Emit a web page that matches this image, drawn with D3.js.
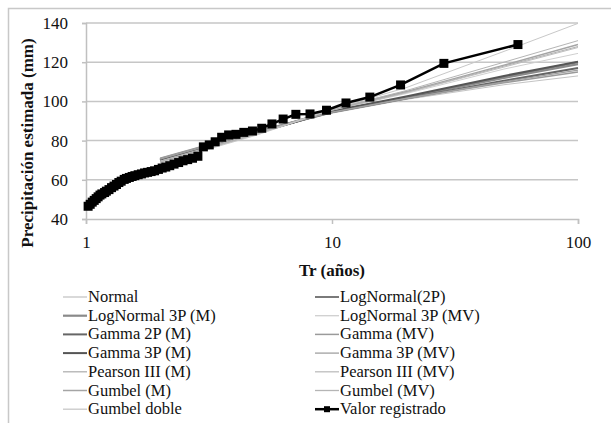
<!DOCTYPE html>
<html><head><meta charset="utf-8">
<script src="https://cdn.jsdelivr.net/npm/d3@7"></script>
<style>body{margin:0;background:#fff}svg{display:block}text{font-family:"Liberation Serif","Times New Roman",serif}</style>
</head><body><svg id="c" width="611" height="423" font-family="Liberation Serif"></svg>
<script>
// Observed data (Weibull plotting positions)
const obsTr = [57,28.5,19,14.25,11.4,9.5,8.14,7.13,6.33,5.7,5.18,4.75,4.38,4.07,3.8,3.56,3.35,3.17,3.0,2.85,2.71,2.59,2.48,2.38,2.28,2.19,2.11,2.04,1.97,1.9,1.84,1.78,1.73,1.68,1.63,1.58,1.54,1.5,1.46,1.43,1.39,1.36,1.33,1.30,1.27,1.24,1.21,1.19,1.16,1.14,1.12,1.10,1.08,1.06,1.04,1.02];
const obsVal = [129,119.4,108.4,102.2,99.2,95.5,93.6,93.4,91,88.5,86.3,84.9,84.2,83.2,82.9,81.7,79.4,77.8,76.8,72,71,70.3,69.7,68.8,68,67.2,66.5,66,65.3,64.6,64.2,63.8,63.5,63,62.6,62.1,61.7,61.2,60.7,60.2,59.3,58.6,57.6,56.8,56,55,54.2,53.5,52.8,52.2,51.3,50.4,49.5,48.6,47.5,46.5];

// Fitted distributions evaluated at these return periods
const fitTr = [2,5,10,20,50,100];
const seriesNames = ["Normal","LogNormal(2P)","LogNormal 3P (M)","LogNormal 3P (MV)","Gamma 2P (M)","Gamma (MV)","Gamma 3P (M)","Gamma 3P (MV)","Pearson III (M)","Pearson III (MV)","Gumbel (M)","Gumbel (MV)","Gumbel doble"];
const normal    = [71,85,94,101,108.5,113];
const logn2p    = [70,84,95,102,112.5,120];
const logn3pM   = [70.5,84.5,95,102,112,119];
const logn3pMV  = [69.5,84,95.5,104,116.5,124.5];
const gamma2pM  = [70.5,84.5,94.5,101.5,110.5,117];
const gammaMV   = [71,85,94.5,101.5,109.5,115];
const gamma3pM  = [70,84,95,102.5,113,120.3];
const gamma3pMV = [70.5,84.5,94.5,101.5,110,116];
const pearsonM  = [69.5,83.5,95.5,104.5,118,128];
const pearsonMV = [69.5,84,95.5,104.5,117.5,127.5];
const gumbelM   = [69,83.5,96,105,118.5,129];
const gumbelMV  = [69,83.5,96,105.5,120,131];
const gumbelDob = [68.5,83,96,107,125.5,139.8];
const xTicks = [1,10,100];
const yTicks = [40,60,80,100,120,140];

const fitted = [normal,logn2p,logn3pM,logn3pMV,gamma2pM,gammaMV,gamma3pM,gamma3pMV,pearsonM,pearsonMV,gumbelM,gumbelMV,gumbelDob];
const styles = [
 {c:"#c4c4c4",w:1},{c:"#7a7a7a",w:2},{c:"#8a8a8a",w:2.2},{c:"#cfcfcf",w:1},
 {c:"#666",w:2},{c:"#9a9a9a",w:1.5},{c:"#555",w:2},{c:"#a0a0a0",w:1.3},
 {c:"#b0b0b0",w:1},{c:"#bdbdbd",w:1},{c:"#a5a5a5",w:1.5},{c:"#b5b5b5",w:1},{c:"#c8c8c8",w:1}
];

const FONT = "Liberation Serif";
const svg = d3.select("#c");
const x = d3.scaleLog().domain([1,100]).range([86,578]);
const y = d3.scaleLinear().domain([40,140]).range([219,23]);

// chart border
svg.append("path").attr("d","M8.5,423 V8.5 H611").attr("fill","none").attr("stroke","#c8c8c8").attr("stroke-width",1.5);

// gridlines
svg.append("g").selectAll("line").data(yTicks.slice(1)).join("line")
 .attr("x1",86).attr("x2",578).attr("y1",d=>y(d)).attr("y2",d=>y(d))
 .attr("stroke","#c6c6c6").attr("stroke-width",1.5);

// axes
const gx = svg.append("g").attr("transform","translate(0,"+y(40)+")")
 .call(d3.axisBottom(x).tickValues(xTicks).tickFormat(d3.format("d")).tickSize(5).tickPadding(12));
const gy = svg.append("g").attr("transform","translate(86,0)")
 .call(d3.axisLeft(y).tickValues(yTicks).tickSize(4).tickPadding(14));
[gx,gy].forEach(g=>{
 g.attr("font-family",FONT);
 g.select(".domain").attr("stroke","#c0c0c0").attr("stroke-width",1.5);
 g.selectAll(".tick line").attr("stroke","#c0c0c0").attr("stroke-width",1.5);
 g.selectAll(".tick text").attr("font-size",17).attr("fill","#111").attr("font-family",FONT);
});

// axis titles
svg.append("text").attr("x",332).attr("y",276).attr("text-anchor","middle").attr("font-family",FONT)
 .attr("font-size",17).attr("font-weight","bold").attr("fill","#111").text("Tr (años)");
svg.append("text").attr("transform","translate(33,143) rotate(-90)").attr("text-anchor","middle").attr("font-family",FONT)
 .attr("font-size",17).attr("font-weight","bold").attr("fill","#111").text("Precipitación estimada (mm)");

// fitted lines
const line = d3.line().x(d=>x(d[0])).y(d=>y(d[1]));
fitted.forEach((s,i)=>{
 svg.append("path").datum(fitTr.map((t,j)=>[t,s[j]])).attr("d",line)
  .attr("fill","none").attr("stroke",styles[i].c).attr("stroke-width",styles[i].w);
});

// observed
const obs = obsTr.map((t,i)=>[t,obsVal[i]]);
svg.append("path").datum(obs).attr("d",line).attr("fill","none").attr("stroke","#000").attr("stroke-width",2.5);
svg.append("g").selectAll("rect").data(obs).join("rect")
 .attr("x",d=>x(d[0])-4.5).attr("y",d=>y(d[1])-4.5).attr("width",9).attr("height",9).attr("fill","#000");

// legend
const legItems = seriesNames.map((n,i)=>({n,st:styles[i],obs:false}));
legItems.push({n:"Valor registrado",st:{c:"#000",w:2.5},obs:true});
const lg = svg.append("g");
legItems.forEach((it,i)=>{
 const col = i%2, row = Math.floor(i/2);
 const x0 = col===0 ? 63 : 315, yy = 297 + row*18.7;
 lg.append("line").attr("x1",x0).attr("x2",x0+24).attr("y1",yy).attr("y2",yy)
  .attr("stroke",it.st.c).attr("stroke-width",it.obs?2.5:Math.max(it.st.w,1.3));
 if(it.obs) lg.append("rect").attr("x",x0+9).attr("y",yy-3).attr("width",6).attr("height",6).attr("fill","#000");
 lg.append("text").attr("x",x0+25).attr("y",yy+5).attr("font-size",16.5).attr("font-family",FONT).attr("fill","#111").text(it.n);
});
</script></body></html>
